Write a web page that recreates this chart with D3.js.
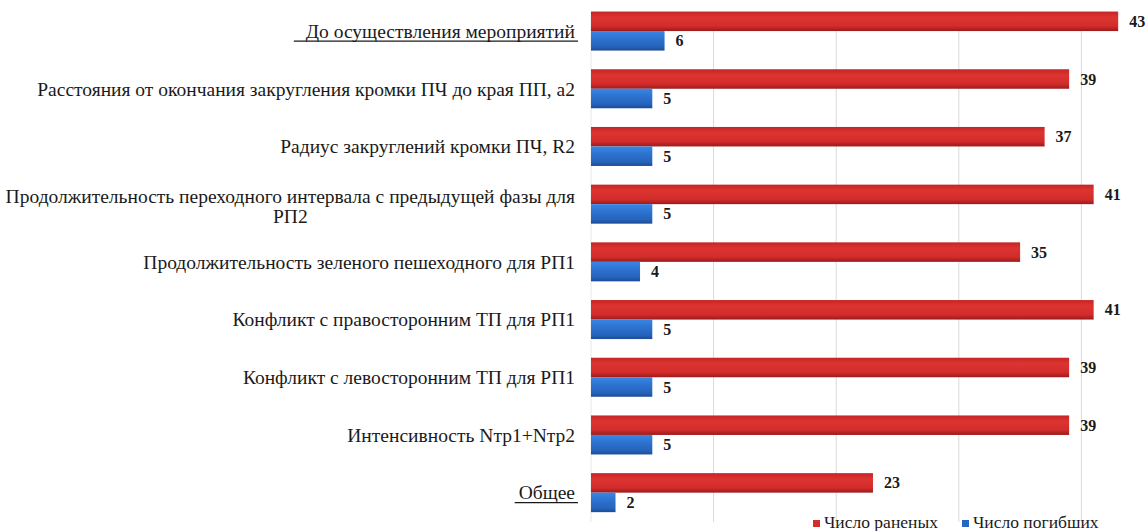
<!DOCTYPE html>
<html>
<head>
<meta charset="utf-8">
<script src="https://cdn.jsdelivr.net/npm/d3@7"></script>
<style>
  html, body { margin: 0; padding: 0; background: #fff; }
  svg { display: block; }
</style>
</head>
<body>
<svg id="chart" width="1147" height="531" font-family="Liberation Serif, Times New Roman, serif"></svg>
<script>
// Categories (measures), top to bottom
const categories = [
  "До осуществления мероприятий",
  "Расстояния от окончания закругления кромки ПЧ до края ПП, а2",
  "Радиус закруглений кромки ПЧ, R2",
  "Продолжительность переходного интервала с предыдущей фазы для РП2",
  "Продолжительность зеленого пешеходного для РП1",
  "Конфликт с правосторонним ТП для РП1",
  "Конфликт с левосторонним ТП для РП1",
  "Интенсивность Nтр1+Nтр2",
  "Общее"
];
const underlinedCategories = ["До осуществления мероприятий", "Общее"];

// Series
const seriesNames = ["Число раненых", "Число погибших"];
const injured = [43, 39, 37, 41, 35, 41, 39, 39, 23];
const killed  = [6, 5, 5, 5, 4, 5, 5, 5, 2];
const gridTicks = [0, 10, 20, 30, 40];

const svg = d3.select("#chart");
const ink = "#1a1a1a";

const x = d3.scaleLinear().domain([0, 50]).range([591, 1204]);
const y = d3.scaleBand().domain(categories).range([2.2, 521.5])
  .paddingInner(0.324).paddingOuter(0.162);
const ySub = d3.scaleBand().domain(seriesNames).range([0, y.bandwidth()]);

// Gradients for bar shading
const defs = svg.append("defs");
function grad(id, stops) {
  const g = defs.append("linearGradient").attr("id", id)
    .attr("x1", 0).attr("y1", 0).attr("x2", 0).attr("y2", 1);
  stops.forEach(s => g.append("stop").attr("offset", s[0]).attr("stop-color", s[1]));
}
grad("gRed", [[0, "#c52526"], [0.3, "#dd3431"], [0.75, "#d22c2b"], [1, "#9c1a1b"]]);
grad("gBlue", [[0, "#3a86e2"], [0.35, "#2e74d2"], [0.8, "#2563bb"], [1, "#1b4b94"]]);
const fills = { "Число раненых": "url(#gRed)", "Число погибших": "url(#gBlue)" };
const swatch = { "Число раненых": "#d22c2b", "Число погибших": "#2666c0" };

// Vertical gridlines
svg.append("g").selectAll("line").data(gridTicks).join("line")
  .attr("x1", d => x(d)).attr("x2", d => x(d))
  .attr("y1", 12).attr("y2", 522)
  .attr("stroke", d => d === 0 ? "#e6e6e6" : "#d9d9d9").attr("stroke-width", 1);

// Bars
const rows = categories.map((c, i) => ({ c, vals: [
  { s: seriesNames[0], v: injured[i] },
  { s: seriesNames[1], v: killed[i] }
]}));

const gRow = svg.append("g").selectAll("g").data(rows).join("g")
  .attr("transform", d => `translate(0,${y(d.c)})`);

gRow.selectAll("rect").data(d => d.vals).join("rect")
  .attr("x", x(0))
  .attr("y", d => ySub(d.s))
  .attr("width", d => x(d.v) - x(0))
  .attr("height", ySub.bandwidth())
  .attr("fill", d => fills[d.s]);

gRow.selectAll("text.val").data(d => d.vals).join("text")
  .attr("class", "val")
  .attr("x", d => x(d.v) + 11)
  .attr("y", d => ySub(d.s) + ySub.bandwidth() / 2)
  .attr("dy", "0.35em")
  .attr("font-size", 16).attr("font-weight", "bold").attr("fill", ink)
  .text(d => d.v);

// Category labels: block right-aligned to the plot, wrapped lines centred within the block
const labelRight = 575, labelMaxW = 572, lineH = 20;
const labels = svg.append("g").selectAll("text").data(categories).join("text")
  .attr("font-size", 19.5).attr("fill", ink);

labels.each(function(d) {
  const t = d3.select(this);
  const words = d.split(" ");
  const lines = [];
  let cur = [];
  const probe = t.append("tspan");
  const measure = s => { probe.text(s); return probe.node().getComputedTextLength(); };
  words.forEach(w => {
    const test = cur.concat(w).join(" ");
    if (measure(test) > labelMaxW && cur.length) {
      lines.push(cur.join(" "));
      cur = [w];
    } else cur.push(w);
  });
  lines.push(cur.join(" "));
  const blockW = d3.max(lines, measure);
  probe.remove();
  const multi = lines.length > 1;
  const cx = labelRight - blockW / 2;
  t.attr("text-anchor", multi ? "middle" : "end");
  const cy = y(d) + y.bandwidth() / 2 + (multi ? 2 : 0);
  const y0 = cy - (lines.length - 1) * lineH / 2;
  lines.forEach((ln, i) => {
    t.append("tspan").attr("x", multi ? cx : labelRight).attr("y", y0 + i * lineH)
      .attr("dy", "0.35em").text(ln);
  });
  if (underlinedCategories.includes(d)) {
    const bb = this.getBBox();
    const pad = d === categories[0] ? 12 : 4;
    svg.append("line")
      .attr("x1", bb.x - pad).attr("x2", bb.x + bb.width + 3)
      .attr("y1", y0 + 10).attr("y2", y0 + 10)
      .attr("stroke", ink).attr("stroke-width", 1.2);
  }
});

// Legend
const legend = svg.append("g");
const legendItems = [
  { s: seriesNames[0], x: 813 },
  { s: seriesNames[1], x: 962 }
];
legendItems.forEach(it => {
  legend.append("rect").attr("x", it.x).attr("y", 520).attr("width", 7).attr("height", 7)
    .attr("fill", swatch[it.s]);
  legend.append("text").attr("x", it.x + 11).attr("y", 527.5)
    .attr("font-size", 17.5).attr("fill", ink).text(it.s);
});
</script>
</body>
</html>
